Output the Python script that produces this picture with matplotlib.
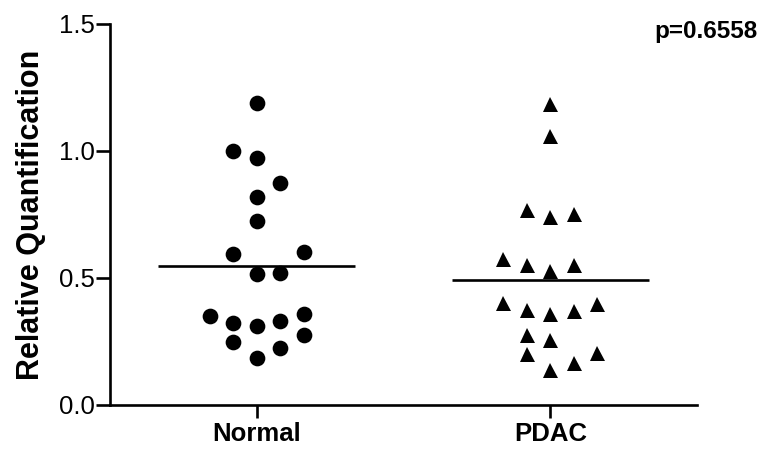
import numpy as np
import matplotlib
matplotlib.use("Agg")
import matplotlib.pyplot as plt

plt.rcParams['font.family'] = ['Liberation Sans', 'DejaVu Sans']

categories = ["Normal", "PDAC"]
normal_values = [1.190, 1.000, 0.971, 0.873, 0.820, 0.726, 0.593, 0.604, 0.516, 0.518,
                 0.350, 0.322, 0.311, 0.332, 0.358, 0.249, 0.223, 0.276, 0.184]
normal_cols = [0, -1, 0, 1, 0, 0, -1, 2, 0, 1, -2, -1, 0, 1, 2, -1, 1, 2, 0]
pdac_values = [1.186, 1.060, 0.768, 0.739, 0.753, 0.575, 0.551, 0.529, 0.551, 0.403,
               0.375, 0.360, 0.372, 0.399, 0.274, 0.257, 0.201, 0.203, 0.164, 0.137]
pdac_cols = [0, 0, -1, 0, 1, -2, -1, 0, 1, -2, -1, 0, 1, 2, -1, 0, -1, 2, 1, 0]
yticks = [0.0, 0.5, 1.0, 1.5]
ytick_labels = ["0.0", "0.5", "1.0", "1.5"]
p_text = "p=0.6558"

fig = plt.figure(figsize=(7.63, 4.5), dpi=100)
ax = fig.add_axes([0.1442, 0.1, 0.7693, 0.8467])

spacing = 0.08
groups = [(normal_values, normal_cols, 'o', 11.3), (pdac_values, pdac_cols, '^', 10.8)]
for i, (vals, cols, mk, ms) in enumerate(groups):
    pos = i + 1
    xs = pos + np.array(cols) * spacing
    ax.plot(xs, vals, linestyle='none', marker=mk, markersize=ms,
            color='black', markeredgewidth=0)
    m = np.mean(vals)
    ax.plot([pos - 0.336, pos + 0.336], [m, m], color='black', lw=1.9,
            solid_capstyle='butt')

ax.set_xlim(0.5, 2.5)
ax.set_ylim(0, 1.5)
ax.set_xticks([1, 2])
ax.set_xticklabels(categories, fontsize=18.5, fontweight='bold')
ax.set_yticks(yticks)
ax.set_yticklabels(ytick_labels, fontsize=18.5)
ax.set_ylabel("Relative Quantification", fontsize=22, fontweight='bold', labelpad=9)

for s in ['top', 'right']:
    ax.spines[s].set_visible(False)
for s in ['left', 'bottom']:
    ax.spines[s].set_linewidth(1.9)
ax.tick_params(axis='y', length=10, width=1.9, pad=1)
ax.tick_params(axis='x', length=9, width=1.9, pad=3)

fig.text(0.9934, 0.9156, p_text, ha='right', va='baseline', fontsize=17.5, fontweight='bold')

fig.savefig("out.png", dpi=100)
